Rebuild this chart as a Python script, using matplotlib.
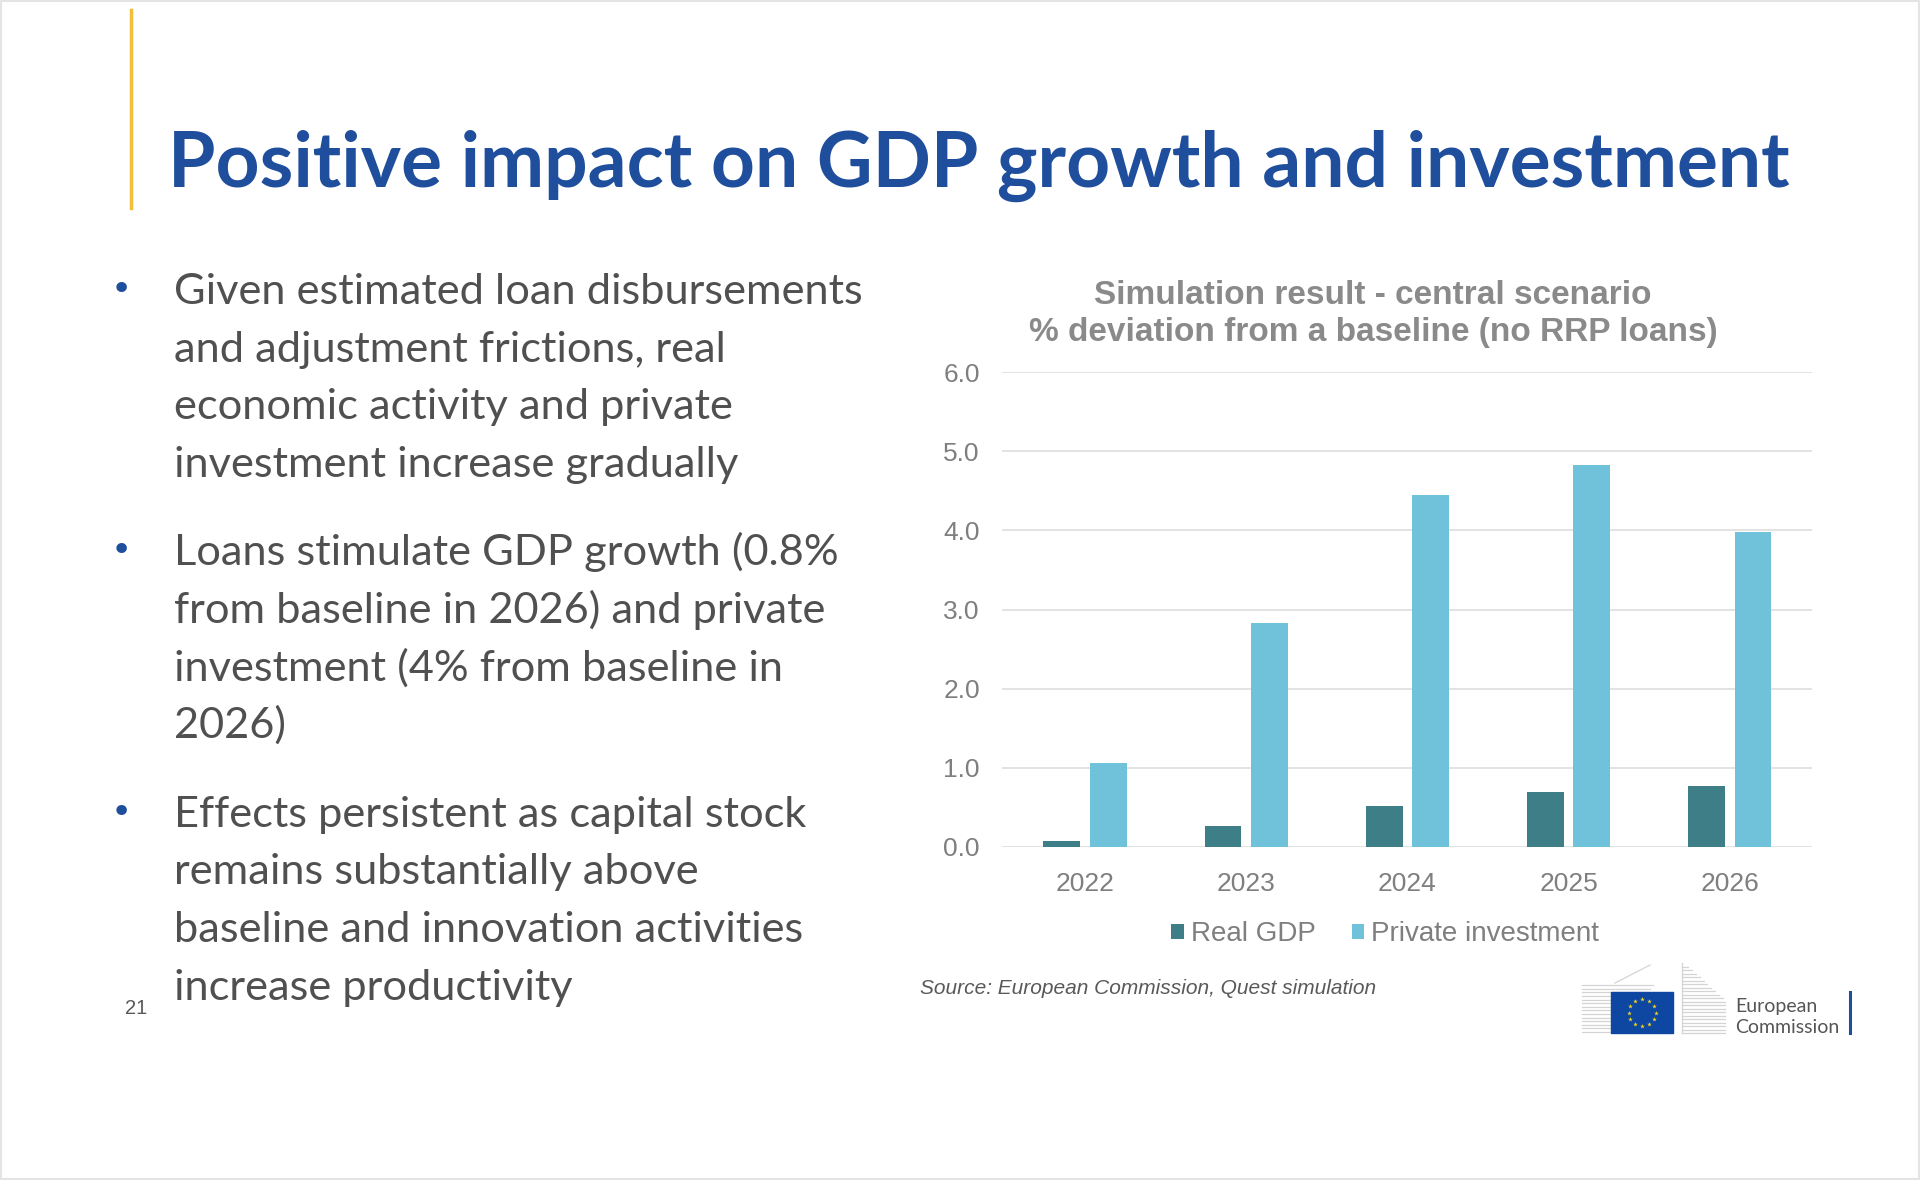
import numpy as np
import matplotlib
matplotlib.use("Agg")
import matplotlib.pyplot as plt
from matplotlib.patches import Rectangle

# chart data
years = ["2022", "2023", "2024", "2025", "2026"]
real_gdp = [0.08, 0.26, 0.52, 0.70, 0.77]
private_inv = [1.06, 2.83, 4.44, 4.82, 3.98]
y_ticks = [0.0, 1.0, 2.0, 3.0, 4.0, 5.0, 6.0]

slide_title = "Positive impact on GDP growth and investment"
chart_title = ["Simulation result - central scenario",
               "% deviation from a baseline (no RRP loans)"]
bullets = [
    ["Given estimated loan disbursements",
     "and adjustment frictions, real",
     "economic activity and private",
     "investment increase gradually"],
    ["Loans stimulate GDP growth (0.8%",
     "from baseline in 2026) and private",
     "investment (4% from baseline in",
     "2026)"],
    ["Effects persistent as capital stock",
     "remains substantially above",
     "baseline and innovation activities",
     "increase productivity"],
]
source = "Source: European Commission, Quest simulation"
page_no = "21"

W, H = 1920, 1180
BLUE = "#1f4e9d"
GDP_C = "#3e7f87"
INV_C = "#70c1da"
GREY = "#7f7f7f"

def fx(x):
    return x / W

def fy(y):
    return 1 - y / H

fig = plt.figure(figsize=(W / 100, H / 100), dpi=100)
fig.patch.set_facecolor("white")

# slide frame + yellow accent bar
fig.patches.append(Rectangle((0.0005, 0.0005), 0.999, 0.999, transform=fig.transFigure,
                             fill=False, edgecolor="#e4e4e4", lw=1.5))
fig.add_artist(plt.Line2D([fx(131), fx(131)], [fy(10), fy(208)], color="#f2bf3a",
                          lw=2.5, transform=fig.transFigure))

fig.text(fx(168), fy(187), slide_title, family="Lato", weight="bold", fontsize=55.3,
         color=BLUE, va="baseline", ha="left")

# bullets
base = 304
step = 57.6
para = 4 * step + 31
for i, lines in enumerate(bullets):
    y0 = base + i * para
    fig.text(fx(121), fy(y0 - 4), "\u2022", color=BLUE, fontsize=26, ha="center",
             va="baseline", family="DejaVu Sans")
    for j, ln in enumerate(lines):
        fig.text(fx(174), fy(y0 + j * step), ln, family="Lato", weight="normal",
                 fontsize=31.2, color="#505050", va="baseline", ha="left")

fig.text(fx(136), fy(1008), page_no, family="Liberation Sans", fontsize=14.5,
         color="#595959", ha="center", va="center")

# chart
ax = fig.add_axes([fx(1002), fy(847), (1812 - 1002) / W, (847 - 372) / H])
x = np.arange(len(years))
w = 0.228
ax.bar(x - 0.144, real_gdp, w, color=GDP_C, label="Real GDP", zorder=3)
ax.bar(x + 0.144, private_inv, w, color=INV_C, label="Private investment", zorder=3)
ax.set_xlim(-0.515, 4.51)
ax.set_ylim(0, 6)
ax.set_yticks(y_ticks)
ax.set_yticklabels([f"{v:.1f}" for v in y_ticks])
ax.set_xticks(x)
ax.set_xticklabels(years)
for s in ax.spines.values():
    s.set_visible(False)
ax.grid(axis="y", color="#dedede", lw=1.2, zorder=0)
ax.tick_params(length=0, labelsize=19, labelcolor=GREY)
ax.tick_params(axis="y", pad=16)
ax.tick_params(axis="x", pad=18)
for lab in ax.get_xticklabels() + ax.get_yticklabels():
    lab.set_family("Liberation Sans")

fig.text(fx(1373), fy(295), chart_title[0], family="Liberation Sans", weight="bold",
         fontsize=24, color="#8a8a8a", ha="center", va="center")
fig.text(fx(1373), fy(333), chart_title[1], family="Liberation Sans", weight="bold",
         fontsize=24, color="#8a8a8a", ha="center", va="center")

leg = ax.legend(loc="center", bbox_to_anchor=(fx(1385), fy(934)), bbox_transform=fig.transFigure,
                ncol=2, frameon=False, handlelength=0.45, handleheight=0.45,
                handletextpad=0.25, columnspacing=1.3,
                prop={"family": "Liberation Sans", "size": 20})
for t in leg.get_texts():
    t.set_color(GREY)

fig.text(fx(920), fy(989), source, family="Liberation Sans", style="italic",
         fontsize=15, color="#595959", ha="left", va="center")

# European Commission logo (rough)
logo = fig.add_axes([0, 0, 1, 1], zorder=5)
logo.set_xlim(0, W)
logo.set_ylim(H, 0)
logo.axis("off")
for k in range(14):
    yy = 1032 - k * 3.6
    # left wing: top edge rises to the right
    x_end = 1611 + (k / 13) * 42
    if yy > 984 - (k / 13) * 18:
        logo.plot([1582, x_end], [yy, yy], color="#d4d4d4", lw=0.9)
for k in range(20):
    yy = 1033 - k * 3.5
    x_end = 1725 - max(0, (1000 - yy)) * 1.1
    if x_end > 1684:
        logo.plot([1682, x_end], [yy, yy], color="#d4d4d4", lw=0.9)
logo.plot([1615, 1650], [983, 965], color="#d4d4d4", lw=0.9)
logo.plot([1682, 1682], [963, 1033], color="#d4d4d4", lw=0.9)
logo.add_patch(Rectangle((1611, 992), 62, 41, color="#0e47a1", zorder=6))
ang = np.linspace(0, 2 * np.pi, 13)[:-1]
logo.scatter(1642 + 13.5 * np.cos(ang), 1012.5 + 13.5 * np.sin(ang), s=12, marker="*",
             color="#f7d51d", zorder=7, linewidths=0)
logo.text(1735, 1012, "European", family="Lato", fontsize=14, color="#555555", va="baseline")
logo.text(1735, 1033, "Commission", family="Lato", fontsize=14, color="#555555", va="baseline")
logo.plot([1850, 1850], [992, 1033], color=BLUE, lw=2.2)

fig.savefig("out.png", dpi=100)
